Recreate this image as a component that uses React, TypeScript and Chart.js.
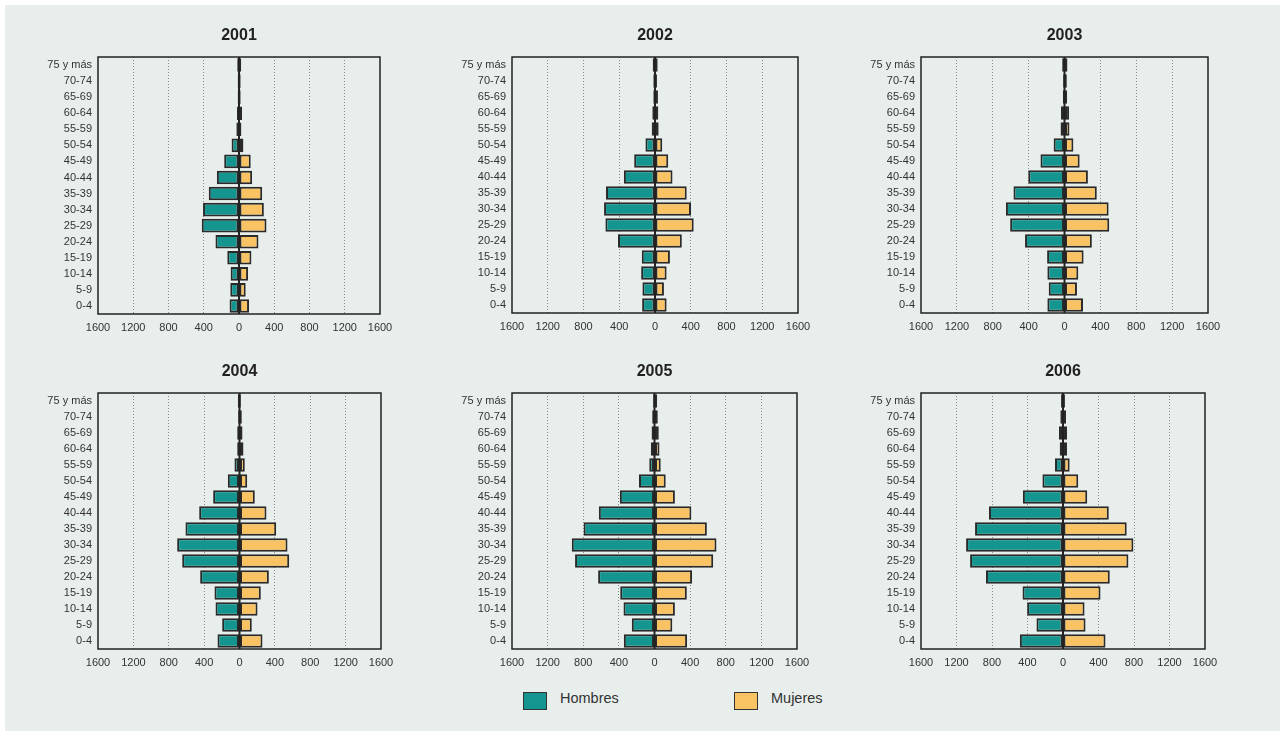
import React, { useEffect, useRef } from "react";
import { Chart, registerables } from "chart.js";

Chart.register(...registerables);

// Age groups, top to bottom
const ageGroups = [
  "75 y más", "70-74", "65-69", "60-64", "55-59", "50-54", "45-49", "40-44",
  "35-39", "30-34", "25-29", "20-24", "15-19", "10-14", "5-9", "0-4",
];

const years = ["2001", "2002", "2003", "2004", "2005", "2006"];

const hombres2001 = [20, 15, 15, 23, 30, 84, 168, 251, 343, 408, 423, 267, 133, 95, 99, 107];
const mujeres2001 = [25, 19, 19, 34, 27, 50, 133, 149, 263, 282, 312, 221, 141, 103, 76, 114];
const hombres2002 = [26, 19, 19, 30, 37, 107, 233, 348, 548, 570, 555, 414, 148, 155, 141, 144];
const mujeres2002 = [30, 22, 33, 37, 41, 81, 148, 196, 355, 403, 433, 300, 167, 130, 100, 130];
const hombres2003 = [26, 15, 18, 40, 44, 121, 268, 404, 569, 653, 606, 440, 194, 191, 176, 191];
const mujeres2003 = [33, 26, 29, 51, 55, 99, 169, 261, 360, 492, 499, 305, 213, 154, 139, 206];
const hombres2004 = [19, 15, 26, 26, 57, 132, 298, 456, 611, 705, 648, 445, 283, 271, 196, 249];
const mujeres2004 = [15, 26, 34, 45, 60, 87, 173, 305, 415, 543, 562, 332, 241, 204, 139, 260];
const hombres2005 = [15, 26, 33, 41, 59, 174, 389, 625, 796, 929, 892, 633, 385, 348, 255, 344];
const mujeres2005 = [30, 37, 48, 56, 70, 126, 229, 414, 588, 696, 659, 422, 363, 229, 200, 366];
const hombres2006 = [22, 30, 45, 37, 90, 232, 452, 834, 991, 1092, 1047, 868, 456, 404, 299, 486];
const mujeres2006 = [22, 34, 45, 45, 75, 172, 273, 516, 718, 793, 737, 527, 423, 243, 254, 479];

const hombresByYear = [hombres2001, hombres2002, hombres2003, hombres2004, hombres2005, hombres2006];
const mujeresByYear = [mujeres2001, mujeres2002, mujeres2003, mujeres2004, mujeres2005, mujeres2006];

const xMax = 1600;
const xStep = 400;

const seriesNames = ["Hombres", "Mujeres"];

// styling / layout
const FONT = "'Liberation Sans', Arial, Helvetica, sans-serif";
const COLOR_H = "#15958f";
const COLOR_M = "#f9c263";
const EDGE = "#2a2a2a";
const TEXT = "#333333";

const AX_W = 80;
const PAD_R = 24;
const TITLE_H = 45;
const XAX_H = 24;

// plot-area boxes (left, top, width, height) for each panel
const boxes = [
  { l: 98, t: 57, w: 282, h: 257 },
  { l: 512, t: 57, w: 286, h: 256 },
  { l: 921, t: 57, w: 287, h: 256 },
  { l: 98, t: 393, w: 283, h: 256 },
  { l: 512, t: 393, w: 285, h: 256 },
  { l: 921, t: 393, w: 284, h: 256 },
];

const framePlugin = {
  id: "frame",
  afterDatasetsDraw(chart: any) {
    const { ctx, chartArea } = chart;
    const x0 = chart.scales.x.getPixelForValue(0);
    ctx.save();
    ctx.strokeStyle = "#222";
    ctx.lineWidth = 2;
    ctx.beginPath();
    ctx.moveTo(x0, chartArea.top);
    ctx.lineTo(x0, chartArea.bottom);
    ctx.stroke();
    ctx.lineWidth = 1.5;
    ctx.strokeRect(chartArea.left, chartArea.top, chartArea.right - chartArea.left, chartArea.bottom - chartArea.top);
    ctx.restore();
  },
};

function Pyramid({ idx }: { idx: number }) {
  const ref = useRef<HTMLCanvasElement | null>(null);
  const b = boxes[idx];
  const width = AX_W + b.w + PAD_R;
  const height = TITLE_H + b.h + XAX_H;

  useEffect(() => {
    if (!ref.current) return;
    const chart = new Chart(ref.current, {
      type: "bar",
      data: {
        labels: ageGroups,
        datasets: [
          {
            label: seriesNames[0],
            data: hombresByYear[idx].map((v) => -v),
            backgroundColor: COLOR_H,
            borderColor: EDGE,
            borderWidth: 2,
            borderSkipped: false,
            categoryPercentage: 0.85,
            barPercentage: 1,
          },
          {
            label: seriesNames[1],
            data: mujeresByYear[idx],
            backgroundColor: COLOR_M,
            borderColor: EDGE,
            borderWidth: 2,
            borderSkipped: false,
            categoryPercentage: 0.85,
            barPercentage: 1,
          },
        ],
      },
      options: {
        indexAxis: "y",
        animation: false,
        responsive: false,
        devicePixelRatio: 1,
        layout: { padding: { left: 0, right: PAD_R, top: 0, bottom: 0 } },
        plugins: {
          legend: { display: false },
          tooltip: { enabled: false },
          title: {
            display: true,
            text: years[idx],
            fullSize: false,
            color: "#222",
            font: { family: FONT, size: 16, weight: "bold" },
            padding: { top: 14, bottom: 11.8 },
          },
        },
        scales: {
          x: {
            type: "linear",
            min: -xMax,
            max: xMax,
            stacked: true,
            afterFit: (s: any) => {
              s.height = XAX_H;
            },
            ticks: {
              stepSize: xStep,
              autoSkip: false,
              maxRotation: 0,
              padding: 7,
              color: TEXT,
              font: { family: FONT, size: 11 },
              callback: (v: any) => String(Math.abs(Number(v))),
            },
            grid: {
              drawTicks: false,
              lineWidth: 1,
              color: (c: any) => {
                const v = c.tick ? c.tick.value : 0;
                return v === 0 || Math.abs(v) === xMax ? "rgba(0,0,0,0)" : "#8a8a8a";
              },
              borderDash: [1, 2],
            } as any,
            border: { display: false, dash: [1, 2] },
          },
          y: {
            type: "category",
            stacked: true,
            afterFit: (s: any) => {
              s.width = AX_W;
            },
            ticks: {
              padding: 6,
              color: TEXT,
              autoSkip: false,
              font: { family: FONT, size: 11 },
            },
            grid: { display: false, drawTicks: false },
            border: { display: false },
          },
        },
      } as any,
      plugins: [framePlugin],
    });
    return () => chart.destroy();
  }, [idx]);

  return (
    <canvas
      ref={ref}
      width={width}
      height={height}
      style={{
        position: "absolute",
        left: b.l - AX_W,
        top: b.t - TITLE_H,
        width,
        height,
      }}
    />
  );
}

function LegendItem({ x, color, label }: { x: number; color: string; label: string }) {
  return (
    <>
      <div
        style={{
          position: "absolute",
          left: x,
          top: 692,
          width: 22,
          height: 16,
          background: color,
          border: "1px solid #333",
        }}
      />
      <div
        style={{
          position: "absolute",
          left: x + 37,
          top: 690,
          fontFamily: FONT,
          fontSize: 14.5,
          color: TEXT,
          lineHeight: "17px",
        }}
      >
        {label}
      </div>
    </>
  );
}

export default function App() {
  return (
    <div
      style={{
        position: "absolute",
        left: 0,
        top: 0,
        width: 1285,
        height: 731,
        background: "#ffffff",
        overflow: "hidden",
      }}
    >
      <div
        style={{
          position: "absolute",
          left: 5,
          top: 5,
          width: 1275,
          height: 726,
          background: "#e8eeec",
        }}
      />
      {years.map((_, i) => (
        <Pyramid key={i} idx={i} />
      ))}
      <LegendItem x={523} color={COLOR_H} label={seriesNames[0]} />
      <LegendItem x={734} color={COLOR_M} label={seriesNames[1]} />
    </div>
  );
}
